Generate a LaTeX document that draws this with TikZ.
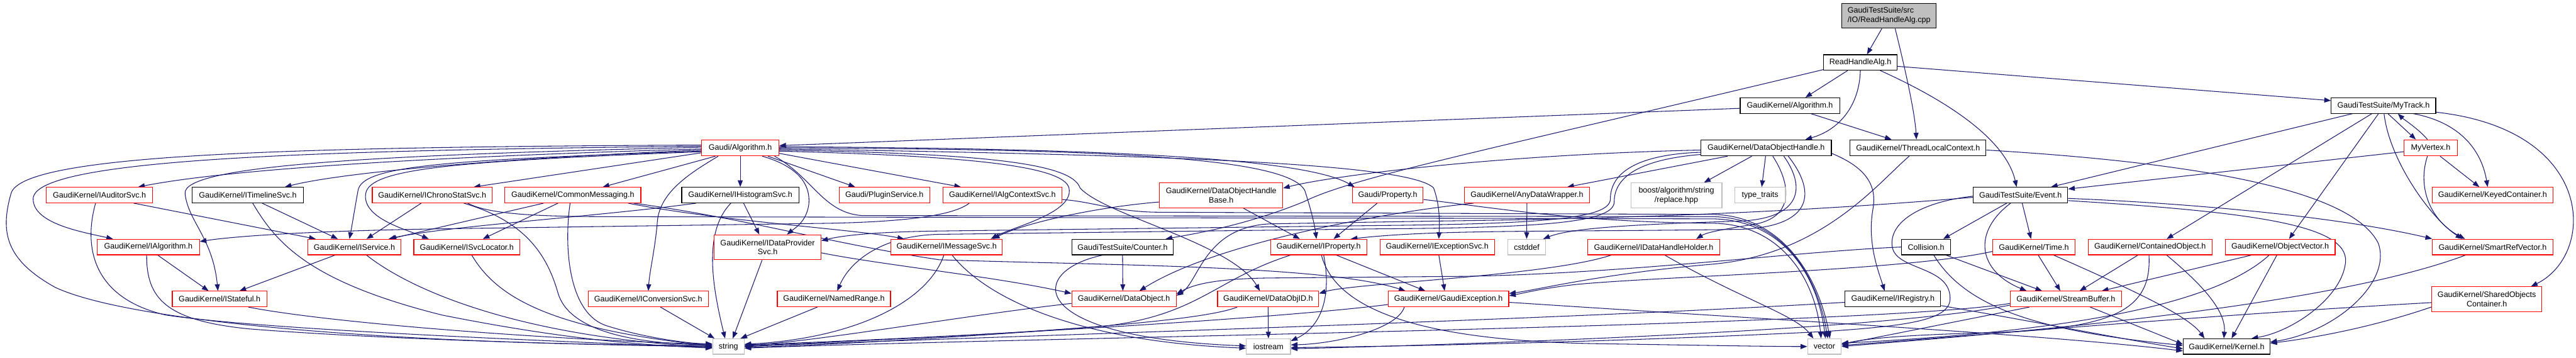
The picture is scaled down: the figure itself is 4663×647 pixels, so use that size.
\documentclass[tikz,border=0pt]{standalone}
\usepackage{fontspec}
\setmainfont{Liberation Sans}
\usetikzlibrary{arrows.meta,backgrounds}
\definecolor{edgec}{HTML}{191970}
\definecolor{redb}{HTML}{FF0000}
\definecolor{grayb}{HTML}{BFBFBF}
\newcommand{\dxfont}{\fontsize{14.3}{16.7}\selectfont}
\tikzset{
  nb/.style={draw, line width=1.3pt, inner sep=0pt, minimum height=28pt, font=\dxfont, fill=white, text=black},
  rb/.style={nb, draw=redb},
  kb/.style={nb, draw=black},
  gb/.style={nb, draw=grayb},
  two/.style={minimum height=45pt, align=center},
  e/.style={draw=edgec, line width=1.2pt, -{Triangle[length=12pt,width=9pt]}},
}
\begin{document}
\begin{tikzpicture}[x=1pt,y=-1pt]
\useasboundingbox (0,0) rectangle (4663,647);
% ---------- nodes ----------
\node[kb, fill=grayb, minimum width=171pt, minimum height=45pt, align=left] (cpp) at (3419.5,28.5) {GaudiTestSuite/src\\/IO/ReadHandleAlg.cpp};
\node[kb, minimum width=133pt] (rha) at (3367.5,113) {ReadHandleAlg.h};
\node[kb, minimum width=180pt] (gkalg) at (3240,191) {GaudiKernel/Algorithm.h};
\node[kb, minimum width=189pt] (mytrack) at (4314.5,191) {GaudiTestSuite/MyTrack.h};
\node[rb, minimum width=140pt, minimum height=29pt] (galg) at (1340,267.5) {Gaudi/Algorithm.h};
\node[kb, minimum width=236pt, minimum height=29pt] (doh) at (3197,267.5) {GaudiKernel/DataObjectHandle.h};
\node[kb, minimum width=246pt, minimum height=29pt] (tlc) at (3472,267.5) {GaudiKernel/ThreadLocalContext.h};
\node[rb, minimum width=96pt, minimum height=29pt] (myvertex) at (4400,267.5) {MyVertex.h};
% row 4
\node[rb, minimum width=192pt] (iauditor) at (180,353) {GaudiKernel/IAuditorSvc.h};
\node[kb, minimum width=201pt] (itimeline) at (448.5,353) {GaudiKernel/ITimelineSvc.h};
\node[rb, minimum width=217pt] (ichrono) at (782.5,353) {GaudiKernel/IChronoStatSvc.h};
\node[rb, minimum width=246pt] (commonmsg) at (1037,353) {GaudiKernel/CommonMessaging.h};
\node[kb, minimum width=212pt] (ihisto) at (1340,353) {GaudiKernel/IHistogramSvc.h};
\node[rb, minimum width=164pt] (plugin) at (1601,353) {Gaudi/PluginService.h};
\node[rb, minimum width=215pt] (ialgctx) at (1814.5,353) {GaudiKernel/IAlgContextSvc.h};
\node[rb, two, minimum width=223pt] (dohbase) at (2210.5,353.5) {GaudiKernel/DataObjectHandle\\Base.h};
\node[rb, minimum width=128pt] (property) at (2512,353) {Gaudi/Property.h};
\node[rb, minimum width=226pt] (anydata) at (2764,353) {GaudiKernel/AnyDataWrapper.h};
\node[gb, two, minimum width=165pt] (boost) at (3034.5,353.5) {boost/algorithm/string\\/replace.hpp};
\node[gb, minimum width=92pt] (typetraits) at (3186,353) {type\_traits};
\node[kb, minimum width=171pt] (event) at (3657.5,353) {GaudiTestSuite/Event.h};
\node[rb, minimum width=218pt] (keyed) at (4512,353) {GaudiKernel/KeyedContainer.h};
% row 5
\node[rb, minimum width=185pt] (ialgorithm) at (268.5,447) {GaudiKernel/IAlgorithm.h};
\node[rb, minimum width=169pt] (iservice) at (641.5,447) {GaudiKernel/IService.h};
\node[rb, minimum width=192pt] (isvcloc) at (845,447) {GaudiKernel/ISvcLocator.h};
\node[rb, two, minimum width=193pt] (idataprov) at (1389.5,447.5) {GaudiKernel/IDataProvider\\Svc.h};
\node[rb, minimum width=201pt] (imessage) at (1713.5,447) {GaudiKernel/IMessageSvc.h};
\node[kb, minimum width=184pt] (counter) at (2032,447) {GaudiTestSuite/Counter.h};
\node[rb, minimum width=174pt] (iproperty) at (2387,447) {GaudiKernel/IProperty.h};
\node[rb, minimum width=207pt] (iexception) at (2601.5,447) {GaudiKernel/IExceptionSvc.h};
\node[gb, minimum width=69pt] (cstddef) at (2763.5,447) {cstddef};
\node[rb, minimum width=239pt] (idhh) at (2993.5,447) {GaudiKernel/IDataHandleHolder.h};
\node[kb, minimum width=89pt] (collision) at (3486.5,447) {Collision.h};
\node[rb, minimum width=149pt] (time) at (3681.5,447) {GaudiKernel/Time.h};
\node[rb, minimum width=224pt] (contained) at (3892,447) {GaudiKernel/ContainedObject.h};
\node[rb, minimum width=199pt] (objvector) at (4127.5,447) {GaudiKernel/ObjectVector.h};
\node[rb, minimum width=218pt] (smartref) at (4512,447) {GaudiKernel/SmartRefVector.h};
% row 6
\node[rb, minimum width=171pt] (istateful) at (397.5,541) {GaudiKernel/IStateful.h};
\node[rb, minimum width=217pt] (iconversion) at (1173.5,541) {GaudiKernel/IConversionSvc.h};
\node[rb, minimum width=205pt] (namedrange) at (1509.5,541) {GaudiKernel/NamedRange.h};
\node[rb, minimum width=189pt] (dataobject) at (2034.5,541) {GaudiKernel/DataObject.h};
\node[rb, minimum width=183pt] (dataobjid) at (2295.5,541) {GaudiKernel/DataObjID.h};
\node[rb, minimum width=218pt] (gaudiexc) at (2622,541) {GaudiKernel/GaudiException.h};
\node[kb, minimum width=173pt] (iregistry) at (3426.5,541) {GaudiKernel/IRegistry.h};
\node[rb, minimum width=201pt] (streambuf) at (3739.5,541) {GaudiKernel/StreamBuffer.h};
\node[rb, two, minimum width=199pt] (sharedobj) at (4501.5,541.5) {GaudiKernel/SharedObjects\\Container.h};
% row 7
\node[gb, minimum width=57pt] (string) at (1318.5,627) {string};
\node[gb, minimum width=80pt] (iostream) at (2296,627) {iostream};
\node[gb, minimum width=61pt] (vector) at (3302.5,627) {vector};
\node[kb, minimum width=157pt] (kernel) at (4030.5,627) {GaudiKernel/Kernel.h};

\begin{pgfonlayer}{background}
\fill[white] (0,0) rectangle (4663,647);
% ---------- top ----------
\draw[e] ([xshift=-13pt]cpp.south) -- ([xshift=12pt]rha.north);
\draw[e] ([xshift=11pt]cpp.south) .. controls (3445,110) and (3466,200) .. ([xshift=-3pt]tlc.north);
\draw[e] ([xshift=-23pt]rha.south) -- ([xshift=28pt]gkalg.north);
\draw[e] (rha.south) .. controls (3366,190) and (3330,235) .. ([xshift=71pt]doh.north);
\draw[e] ([xshift=36pt]rha.south) .. controls (3520,180) and (3630,250) .. ([xshift=-7pt]event.north);
\draw[e] ([yshift=-7pt]rha.east) -- ([yshift=9pt]mytrack.west);
\draw[e] ([yshift=-13pt]rha.west) .. controls (2700,270) and (2450,320) .. (2360,365) .. controls (2250,410) and (2150,425) .. ([xshift=78pt]counter.north);
\draw[e] ([yshift=-5pt]gkalg.west) -- ([yshift=4pt]galg.east);
\draw[e] ([xshift=38pt]gkalg.south) -- ([xshift=-48pt]tlc.north);
% ---------- MyTrack / MyVertex ----------
\draw[e] ([xshift=8pt]mytrack.south) -- ([xshift=-27pt]myvertex.north);
\draw[e] ([xshift=-6pt]myvertex.north) .. controls (4380,235) and (4350,215) .. ([xshift=26pt]mytrack.south);
\draw[e] ([xshift=-56pt]mytrack.south) -- ([xshift=55pt]event.north);
\draw[e] ([xshift=-21pt]mytrack.south) -- ([xshift=30pt]contained.north);
\draw[e] ([xshift=-9pt]mytrack.south) -- ([xshift=16pt]objvector.north);
\draw[e] ([xshift=1pt]mytrack.south) .. controls (4325,290) and (4400,395) .. ([xshift=-55pt]smartref.north);
\draw[e] ([xshift=54pt]mytrack.south) .. controls (4470,225) and (4495,290) .. ([xshift=-9pt]keyed.north);
\draw[e] ([yshift=-12pt]mytrack.east) .. controls (4700,235) and (4700,460) .. ([xshift=80pt]sharedobj.north);
\draw[e] ([yshift=-7pt]myvertex.west) -- ([yshift=11pt]event.east);
\draw[e] ([xshift=17pt]myvertex.south) -- ([xshift=-24pt]keyed.north);
\draw[e] ([xshift=-6pt]myvertex.south) .. controls (4375,340) and (4400,400) .. ([xshift=-50pt]smartref.north);
% ---------- Event ----------
\draw[e] ([xshift=-25pt]event.south) -- ([xshift=31pt]collision.north);
\draw[e] ([xshift=3pt]event.south) -- ([xshift=-5pt]time.north);
\draw[e] ([xshift=-18pt]event.south) .. controls (3570,420) and (3580,490) .. ([xshift=-71pt]streambuf.north);
\draw[e] ([yshift=-6pt]event.east) .. controls (3900,365) and (4200,385) .. ([yshift=15pt]smartref.west);
\draw[e] ([yshift=-10pt]event.east) .. controls (4100,385) and (4260,410) .. (4245,480) .. controls (4235,540) and (4150,600) .. ([xshift=45pt]kernel.north);
\draw[e] ([yshift=-4pt]event.west) .. controls (3300,380) and (3000,395) .. (2600,400) -- (2300,405) .. controls (2180,410) and (2170,510) .. ([yshift=6pt]dataobject.east);
\draw[e] ([yshift=-2pt]event.west) .. controls (3480,365) and (3420,400) .. (3425,445) .. controls (3430,490) and (3530,480) .. (3530,540) .. controls (3530,580) and (3450,590) .. (3300,600) .. controls (2900,620) and (2500,627) .. ([yshift=-2pt]iostream.east);
% ---------- Collision / Time ----------
\draw[e] ([xshift=36pt]collision.south) -- ([xshift=-43pt]streambuf.north);
\draw[e] ([xshift=14pt]collision.south) .. controls (3560,560) and (3700,600) .. ([yshift=2pt]kernel.west);
\draw[e] (collision.west) .. controls (3250,455) and (2950,495) .. (2650,500) -- (2300,503) .. controls (2200,504) and (2160,515) .. ([yshift=9pt]dataobject.east);
\draw[e] ([xshift=8pt]time.south) -- ([xshift=-10pt]streambuf.north);
\draw[e] ([xshift=36pt]time.south) .. controls (3850,520) and (3960,570) .. ([xshift=-40pt]kernel.north);
\draw[e] ([yshift=-8pt]time.west) .. controls (3450,490) and (3000,500) .. (2850,515) .. controls (2790,522) and (2760,530) .. ([yshift=6pt]gaudiexc.east);
% ---------- ThreadLocalContext ----------
\draw[e] ([yshift=-4pt]tlc.east) .. controls (3900,290) and (4250,330) .. (4305,440) .. controls (4330,510) and (4230,600) .. ([yshift=8pt]kernel.east);
\draw[e] ([xshift=-16pt]tlc.south) .. controls (3400,330) and (3300,460) .. (3100,478) .. controls (2900,495) and (2780,525) .. ([yshift=10pt]gaudiexc.east);
% ---------- Contained / ObjectVector / SmartRef / Shared ----------
\draw[e] ([xshift=-22pt]contained.south) -- ([xshift=25pt]streambuf.north);
\draw[e] ([xshift=30pt]contained.south) .. controls (3980,510) and (4030,560) .. ([xshift=-5pt]kernel.north);
\draw[e] ([xshift=-2pt]contained.south) .. controls (3895,560) and (3830,595) .. (3600,602) .. controls (3450,606) and (3380,612) .. ([yshift=4pt]vector.east);
\draw[e] ([xshift=-52pt]objvector.south) -- ([xshift=65pt]streambuf.north);
\draw[e] ([xshift=-6pt]objvector.south) -- ([xshift=9pt]kernel.north);
\draw[e] ([xshift=-20pt]objvector.south) .. controls (4000,560) and (3700,602) .. ([yshift=6pt]vector.east);
\draw[e] ([xshift=-49pt]smartref.south) .. controls (4200,560) and (3600,605) .. (vector.east);
\draw[e] ([yshift=-14pt]sharedobj.west) .. controls (4300,590) and (4200,610) .. ([yshift=6pt]kernel.east);
\draw[e] ([yshift=-6pt]sharedobj.west) .. controls (4000,570) and (3600,605) .. ([yshift=2pt]vector.east);
% ---------- StreamBuffer / IRegistry / GaudiException ----------
\draw[e] ([xshift=-66pt]streambuf.south) -- ([yshift=4pt]vector.east);
\draw[e] ([xshift=44pt]streambuf.south) -- ([yshift=4pt]kernel.west);
\draw[e] ([yshift=-8pt]streambuf.west) .. controls (3400,590) and (1800,612) .. ([yshift=-3pt]string.east);
\draw[e] ([yshift=-11pt]streambuf.west) .. controls (3400,600) and (2600,625) .. ([yshift=-4pt]iostream.east);
\draw[e] ([yshift=-6pt]iregistry.west) .. controls (2800,580) and (1700,612) .. (string.east);
\draw[e] ([yshift=-12pt]iregistry.east) .. controls (3700,585) and (3850,615) .. ([yshift=-4pt]kernel.west);
\draw[e] ([yshift=-10pt]gaudiexc.west) .. controls (2300,578) and (1700,612) .. ([yshift=3pt]string.east);
\draw[e] ([yshift=-6pt]gaudiexc.east) .. controls (3200,578) and (3700,605) .. ([yshift=-8pt]kernel.west);
\draw[e] ([xshift=-80pt]gaudiexc.south) .. controls (2530,595) and (2420,622) .. ([yshift=3pt]iostream.east);
% ---------- IProperty / Property / IExceptionSvc ----------
\draw[e] ([xshift=32pt]iproperty.south) -- ([xshift=-42pt]gaudiexc.north);
\draw[e] ([xshift=9pt]iproperty.south) .. controls (2410,530) and (2395,590) .. ([yshift=10pt]iostream.east);
\draw[e] ([xshift=5pt]iproperty.south) .. controls (2420,570) and (2600,618) .. (2900,622) .. controls (3100,625) and (3200,627) .. (vector.west);
\draw[e] ([xshift=-51pt]iproperty.south) .. controls (2200,505) and (2170,570) .. (2000,590) .. controls (1750,610) and (1450,627) .. ([yshift=-1pt]string.east);
\draw[e] ([xshift=-19pt]property.south) -- ([xshift=27pt]iproperty.north);
\draw[e] ([yshift=-8pt]property.east) .. controls (2700,375) and (2850,402) .. (3100,404) .. controls (3220,405) and (3285,500) .. ([xshift=-6pt]vector.north);
\draw[e] ([xshift=3pt]iexception.south) -- ([xshift=-7pt]gaudiexc.north);
% ---------- DataObjectHandle ----------
\draw[e] ([yshift=-4pt]doh.west) .. controls (2700,280) and (2400,320) .. ([yshift=13pt]dohbase.east);
\draw[e] ([xshift=-70pt]doh.south) -- ([xshift=73pt]anydata.north);
\draw[e] ([xshift=-26pt]doh.south) -- ([xshift=50pt]boost.north);
\draw[e] ([xshift=-1pt]doh.south) -- ([xshift=3pt]typetraits.north);
\draw[e] ([yshift=-10pt]doh.east) .. controls (3370,300) and (3400,330) .. (3390,380) .. controls (3380,440) and (3400,490) .. ([xshift=-15pt]iregistry.north);
\draw[e] ([xshift=12pt]doh.south) .. controls (3240,330) and (3250,390) .. (3180,405) .. controls (3120,415) and (3090,420) .. ([xshift=77pt]idhh.north);
\draw[e] ([xshift=32pt]doh.south) .. controls (3270,340) and (3260,395) .. (3150,400) .. controls (3000,405) and (2850,410) .. ([xshift=30pt]cstddef.north);
\draw[e] ([xshift=40pt]doh.south) .. controls (3290,350) and (3280,410) .. (3150,415) .. controls (2800,420) and (2600,415) .. ([xshift=58pt]iproperty.north);
\draw[e] ([yshift=-8pt]doh.west) .. controls (2950,280) and (2915,320) .. (2915,360) .. controls (2915,395) and (2800,405) .. (2500,408) -- (1700,418) .. controls (1550,420) and (1510,430) .. ([yshift=12pt]idataprov.east);
\draw[e] ([yshift=-12pt]doh.west) .. controls (2950,290) and (2922,330) .. (2922,365) .. controls (2922,402) and (2800,412) .. (2500,414) -- (1700,424) .. controls (1600,426) and (1540,470) .. ([xshift=6pt]namedrange.north);
% ---------- DataObjectHandleBase / AnyDataWrapper / IDataHandleHolder ----------
\draw[e] ([xshift=40pt]dohbase.south) -- ([xshift=-34pt]iproperty.north);
\draw[e] ([yshift=-12pt]dohbase.west) .. controls (1980,375) and (1850,405) .. ([xshift=84pt]imessage.north);
\draw[e] (anydata.south) -- (cstddef.north);
\draw[e] ([xshift=-97pt]anydata.south) .. controls (2500,385) and (2200,440) .. ([xshift=28pt]dataobject.north);
\draw[e] ([xshift=-77pt]idhh.south) .. controls (2800,500) and (2450,512) .. ([yshift=10pt]dataobjid.east);
\draw[e] ([xshift=20pt]idhh.south) .. controls (3150,540) and (3250,570) .. ([xshift=-20pt]vector.north);
% ---------- DataObjID / DataObject / IMessageSvc / Counter ----------
\draw[e] (dataobjid.south) -- (iostream.north);
\draw[e] ([xshift=-56pt]dataobjid.south) .. controls (2150,592) and (1600,615) .. ([yshift=1pt]string.east);
\draw[e] ([yshift=-8pt]dataobject.west) .. controls (1750,570) and (1480,618) .. ([yshift=2pt]string.east);
\draw[e] ([xshift=-5pt]imessage.south) .. controls (1680,545) and (1550,612) .. ([yshift=4pt]string.east);
\draw[e] ([xshift=10pt]imessage.south) .. controls (1790,545) and (1960,618) .. ([yshift=-3pt]iostream.west);
\draw[e] (counter.south) -- ([xshift=-2pt]dataobject.north);
\draw[e] ([xshift=-36pt]counter.south) .. controls (1860,490) and (1850,610) .. ([yshift=1pt]iostream.west);
% ---------- NamedRange / IConversion / IDataProvider / IHistogram ----------
\draw[e] ([xshift=-30pt]namedrange.south) -- ([xshift=22pt]string.north);
\draw[e] ([xshift=22pt]iconversion.south) -- ([xshift=-25pt]string.north);
\draw[e] ([xshift=-10pt]idataprov.south) -- ([xshift=8pt]string.north);
\draw[e] ([yshift=-10pt]idataprov.east) .. controls (1600,480) and (1800,500) .. ([yshift=10pt]dataobject.west);
\draw[e] ([xshift=-17pt]ihisto.south) .. controls (1272,420) and (1290,520) .. ([xshift=-6pt]string.north);
\draw[e] ([xshift=6pt]ihisto.south) -- ([xshift=-15pt]idataprov.north);
\draw[e] ([xshift=-80pt]ihisto.south) .. controls (1100,390) and (800,410) .. ([xshift=62pt]iservice.north);
% ---------- CommonMessaging ----------
\draw[e] ([xshift=-53pt]commonmsg.south) -- ([xshift=64pt]iservice.north);
\draw[e] ([xshift=-27pt]commonmsg.south) -- ([xshift=29pt]isvcloc.north);
\draw[e] ([xshift=-5pt]commonmsg.south) .. controls (1020,450) and (1030,570) .. (1100,590) .. controls (1170,612) and (1250,622) .. ([yshift=5pt]string.west);
\draw[e] ([xshift=100pt]commonmsg.south) .. controls (1300,400) and (1550,415) .. ([xshift=-77pt]imessage.north);
\draw[e] ([xshift=110pt]commonmsg.south) .. controls (1350,395) and (1500,440) .. (1700,470) .. controls (2000,480) and (2400,480) .. ([xshift=-78pt]gaudiexc.north);
% ---------- left interface nodes ----------
\draw[e] ([xshift=62pt]iauditor.south) -- ([xshift=-70pt]iservice.north);
\draw[e] ([xshift=-7pt]iauditor.south) .. controls (150,450) and (170,540) .. (300,570) .. controls (500,600) and (1100,620) .. ([yshift=-3pt]string.west);
\draw[e] ([xshift=26pt]itimeline.south) -- ([xshift=-30pt]iservice.north);
\draw[e] ([xshift=9pt]itimeline.south) .. controls (500,440) and (560,510) .. (800,570) .. controls (1000,610) and (1150,625) .. ([yshift=-2pt]string.west);
\draw[e] ([xshift=-20pt]ichrono.south) -- ([xshift=22pt]iservice.north);
\draw[e] ([xshift=57pt]ichrono.south) .. controls (950,400) and (990,460) .. (1010,530) .. controls (1030,600) and (1150,622) .. ([yshift=3pt]string.west);
\draw[e] ([xshift=64pt]ichrono.south) .. controls (880,385) and (950,392) .. (1100,392) -- (3100,396) .. controls (3230,398) and (3290,500) .. ([xshift=2pt]vector.north);
\draw[e] ([xshift=17pt]ialgorithm.south) -- ([xshift=-20pt]istateful.north);
\draw[e] ([xshift=-3pt]ialgorithm.south) .. controls (265,540) and (300,580) .. (450,595) .. controls (700,615) and (1100,625) .. (string.west);
\draw[e] ([xshift=-35pt]iservice.south) -- ([xshift=36pt]istateful.north);
\draw[e] ([xshift=22pt]iservice.south) .. controls (750,530) and (950,610) .. ([yshift=-1pt]string.west);
\draw[e] ([xshift=9pt]isvcloc.south) .. controls (900,540) and (1000,595) .. ([yshift=1pt]string.west);
\draw[e] ([xshift=52pt]istateful.south) .. controls (600,585) and (1000,615) .. ([yshift=4pt]string.west);
% ---------- IAlgContextSvc ----------
\draw[e] ([xshift=-60pt]ialgctx.south) .. controls (1720,395) and (1600,402) .. (1500,404) -- (800,414) .. controls (550,418) and (420,428) .. ([yshift=10pt]ialgorithm.east);
\draw[e] ([yshift=-8pt]ialgctx.east) .. controls (1980,365) and (2020,384) .. (2100,384) -- (3100,388) .. controls (3225,390) and (3292,500) .. ([xshift=10pt]vector.north);
% ---------- Gaudi/Algorithm.h ----------
\draw[e] ([yshift=-2pt]galg.west) .. controls (800,283) and (420,305) .. ([xshift=70pt]iauditor.north);
\draw[e] ([yshift=-4pt]galg.west) .. controls (900,287) and (620,312) .. ([xshift=67pt]itimeline.north);
\draw[e] ([yshift=-9pt]galg.west) -- ([xshift=75pt]ichrono.north);
\draw[e] ([yshift=3pt]galg.west) .. controls (600,272) and (60,285) .. (60,360) .. controls (60,405) and (150,420) .. ([xshift=-64pt]ialgorithm.north);
\draw[e] ([yshift=5pt]galg.west) .. controls (500,266) and (40,280) .. (20,350) .. controls (0,420) and (10,470) .. (100,520) .. controls (250,590) and (800,625) .. ([yshift=2pt]string.west);
\draw[e] ([yshift=1pt]galg.west) .. controls (700,280) and (330,298) .. (335,350) .. controls (340,400) and (385,430) .. ([xshift=-3pt]istateful.north);
\draw[e] ([yshift=-6pt]galg.west) .. controls (800,290) and (655,300) .. (648,345) .. controls (640,390) and (636,415) .. ([xshift=-9pt]iservice.north);
\draw[e] ([yshift=-7pt]galg.west) .. controls (820,292) and (670,305) .. (662,350) .. controls (655,395) and (735,415) .. ([xshift=-69pt]isvcloc.north);
\draw[e] ([xshift=-45pt]galg.south) -- ([xshift=54pt]commonmsg.north);
\draw[e] ([xshift=-40pt]galg.south) .. controls (1255,310) and (1195,345) .. (1190,400) .. controls (1186,450) and (1176,490) .. (iconversion.north);
\draw[e] (galg.south) -- (ihisto.north);
\draw[e] ([xshift=40pt]galg.south) .. controls (1440,300) and (1468,330) .. (1464,370) .. controls (1460,400) and (1440,412) .. ([xshift=35pt]idataprov.north);
\draw[e] ([xshift=50pt]galg.south) -- ([xshift=-53pt]plugin.north);
\draw[e] ([xshift=62pt]galg.south) .. controls (1470,320) and (1490,385) .. (1560,390) -- (3100,392) .. controls (3228,394) and (3290,500) .. ([xshift=6pt]vector.north);
\draw[e] ([yshift=-10pt]galg.east) -- ([xshift=-75pt]ialgctx.north);
\draw[e] ([yshift=-6pt]galg.east) .. controls (1750,282) and (1925,300) .. (1935,340) .. controls (1945,385) and (1835,410) .. ([xshift=80pt]imessage.north);
\draw[e] ([yshift=-4pt]galg.east) .. controls (1780,278) and (1940,295) .. (1955,340) .. controls (2000,390) and (2230,440) .. ([xshift=-15pt]dataobjid.north);
\draw[e] ([yshift=2pt]galg.east) .. controls (1900,268) and (2350,280) .. ([xshift=-60pt]property.north);
\draw[e] (galg.east) .. controls (1950,270) and (2330,280) .. (2362,345) .. controls (2375,385) and (2380,410) .. ([xshift=-4pt]iproperty.north);
\draw[e] ([yshift=-2pt]galg.east) .. controls (2100,280) and (2550,295) .. (2595,340) .. controls (2606,370) and (2606,400) .. ([xshift=3pt]iexception.north);
\end{pgfonlayer}
\end{tikzpicture}
\end{document}
